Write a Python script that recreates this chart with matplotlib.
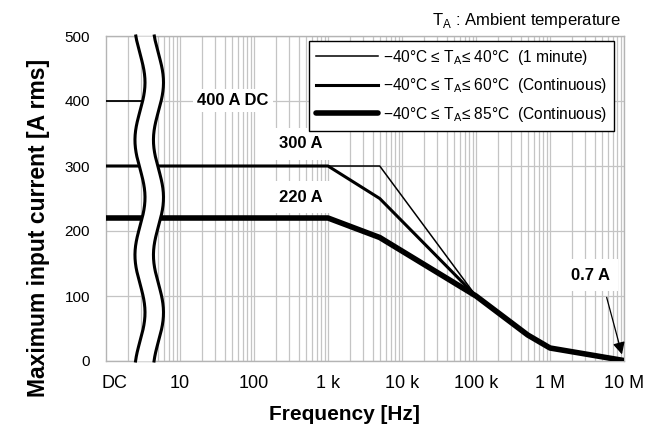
import numpy as np
import matplotlib
matplotlib.use("Agg")
import matplotlib.pyplot as plt
from matplotlib.ticker import LogLocator, NullFormatter

plt.rcParams['font.family'] = ['Liberation Sans', 'DejaVu Sans']
plt.rcParams['mathtext.fontset'] = 'custom'
plt.rcParams['mathtext.rm'] = 'Liberation Sans'

# ---- data ----
freq_1min = [1, 5e3, 1e5, 5e5, 1e6, 1e7]
amp_1min = [300, 300, 100, 40, 20, 0.7]
freq_60 = [1, 1e3, 5e3, 1e5, 5e5, 1e6, 1e7]
amp_60 = [300, 300, 250, 100, 40, 20, 0.7]
freq_85 = [1, 1e3, 5e3, 1e5, 5e5, 1e6, 1e7]
amp_85 = [220, 220, 190, 100, 40, 20, 0.7]
dc_freq = [1, 3]
dc_amp = [400, 400]

tick_pos = [1.32, 10, 100, 1e3, 1e4, 1e5, 1e6, 1e7]
tick_labels = ["DC", "10", "100", "1 k", "10 k", "100 k", "1 M", "10 M"]
labels = [r"$-$40°C ≤ T$_\mathregular{A}$≤ 40°C  (1 minute)",
          r"$-$40°C ≤ T$_\mathregular{A}$≤ 60°C  (Continuous)",
          r"$-$40°C ≤ T$_\mathregular{A}$≤ 85°C  (Continuous)"]

fig = plt.figure(figsize=(6.46, 4.25), dpi=100)
ax = fig.add_axes([106 / 646, 64 / 425, 518 / 646, 325 / 425])

ax.plot(freq_1min, amp_1min, color='black', lw=1.1, zorder=3, label=labels[0])
ax.plot(freq_60, amp_60, color='black', lw=2.2, zorder=3, label=labels[1])
ax.plot(freq_85, amp_85, color='black', lw=4.0, zorder=3, label=labels[2],
        solid_capstyle='round')
ax.plot(dc_freq, dc_amp, color='black', lw=1.3, zorder=3)

ax.set_xscale('log')
ax.set_xlim(1, 1e7)
ax.set_ylim(0, 500)
ax.set_yticks(range(0, 501, 100))
ax.set_xticks(tick_pos)
ax.set_xticklabels(tick_labels)
ax.xaxis.set_minor_locator(LogLocator(base=10, subs=np.arange(2, 10), numticks=20))
ax.xaxis.set_minor_formatter(NullFormatter())
ax.tick_params(axis='x', which='both', length=0, labelsize=13, pad=10)
ax.tick_params(axis='y', length=0, labelsize=11, pad=11.5)

ax.grid(True, which='major', color='#c4c4c4', lw=0.9, zorder=0)
ax.grid(True, which='minor', axis='x', color='#c4c4c4', lw=0.9, zorder=0)
ax.get_xgridlines()[0].set_visible(False)
for s in ax.spines.values():
    s.set_color('#b4b4b4')
    s.set_linewidth(1.0)

# broken axis: two wavy lines with white between them
yy = np.linspace(0, 500, 300)
w_left = 0.0656 - 0.0097 * np.cos(2 * np.pi * (yy - 340) / 177)
w_right = w_left + 0.0357
x_left = 10 ** (7 * w_left)
x_right = 10 ** (7 * w_right)
ax.fill_betweenx(yy, x_left, x_right, color='white', zorder=4, lw=0)
ax.plot(x_left, yy, color='black', lw=2.2, zorder=5, clip_on=False)
ax.plot(x_right, yy, color='black', lw=2.2, zorder=5, clip_on=False)

box = dict(facecolor='white', edgecolor='none', pad=3)
ax.text(52, 401, "400 A DC", fontsize=12, fontweight='bold', ha='center',
        va='center', bbox=box, zorder=6)
ax.text(430, 334, "300 A", fontsize=12, fontweight='bold', ha='center',
        va='center', bbox=dict(facecolor='white', edgecolor='none', pad=6), zorder=6)
ax.text(430, 252, "220 A", fontsize=12, fontweight='bold', ha='center',
        va='center', bbox=dict(facecolor='white', edgecolor='none', pad=6), zorder=6)
ax.text(3.5e6, 132, "0.7 A", fontsize=12, fontweight='bold', ha='center',
        va='center', bbox=dict(facecolor='white', edgecolor='none', pad=6), zorder=6)
ax.annotate("", xy=(9.6e6, 6), xytext=(5.7e6, 102),
            arrowprops=dict(arrowstyle='-|>', color='black', lw=0.9,
                            mutation_scale=18), zorder=7)

leg = ax.legend(loc='upper right', bbox_to_anchor=(0.981, 0.985), borderaxespad=0,
                fontsize=11.2, handlelength=4.0, handletextpad=0.3, labelspacing=0.6,
                borderpad=0.45, fancybox=False, framealpha=1, edgecolor='black')
leg.get_frame().set_linewidth(1.0)
leg.set_zorder(8)

ax.set_xlabel("Frequency [Hz]", fontsize=15, fontweight='bold')
ax.xaxis.set_label_coords(0.461, -0.135)
ax.set_ylabel("Maximum input current [A rms]", fontsize=16.5, fontweight='bold')
ax.yaxis.set_label_coords(-0.108, 0.41)

fig.text(621 / 646, 1 - 20 / 425, r"T$_\mathregular{A}$ : Ambient temperature",
         fontsize=12, ha='right', va='center')

fig.savefig("out.png", dpi=100)
